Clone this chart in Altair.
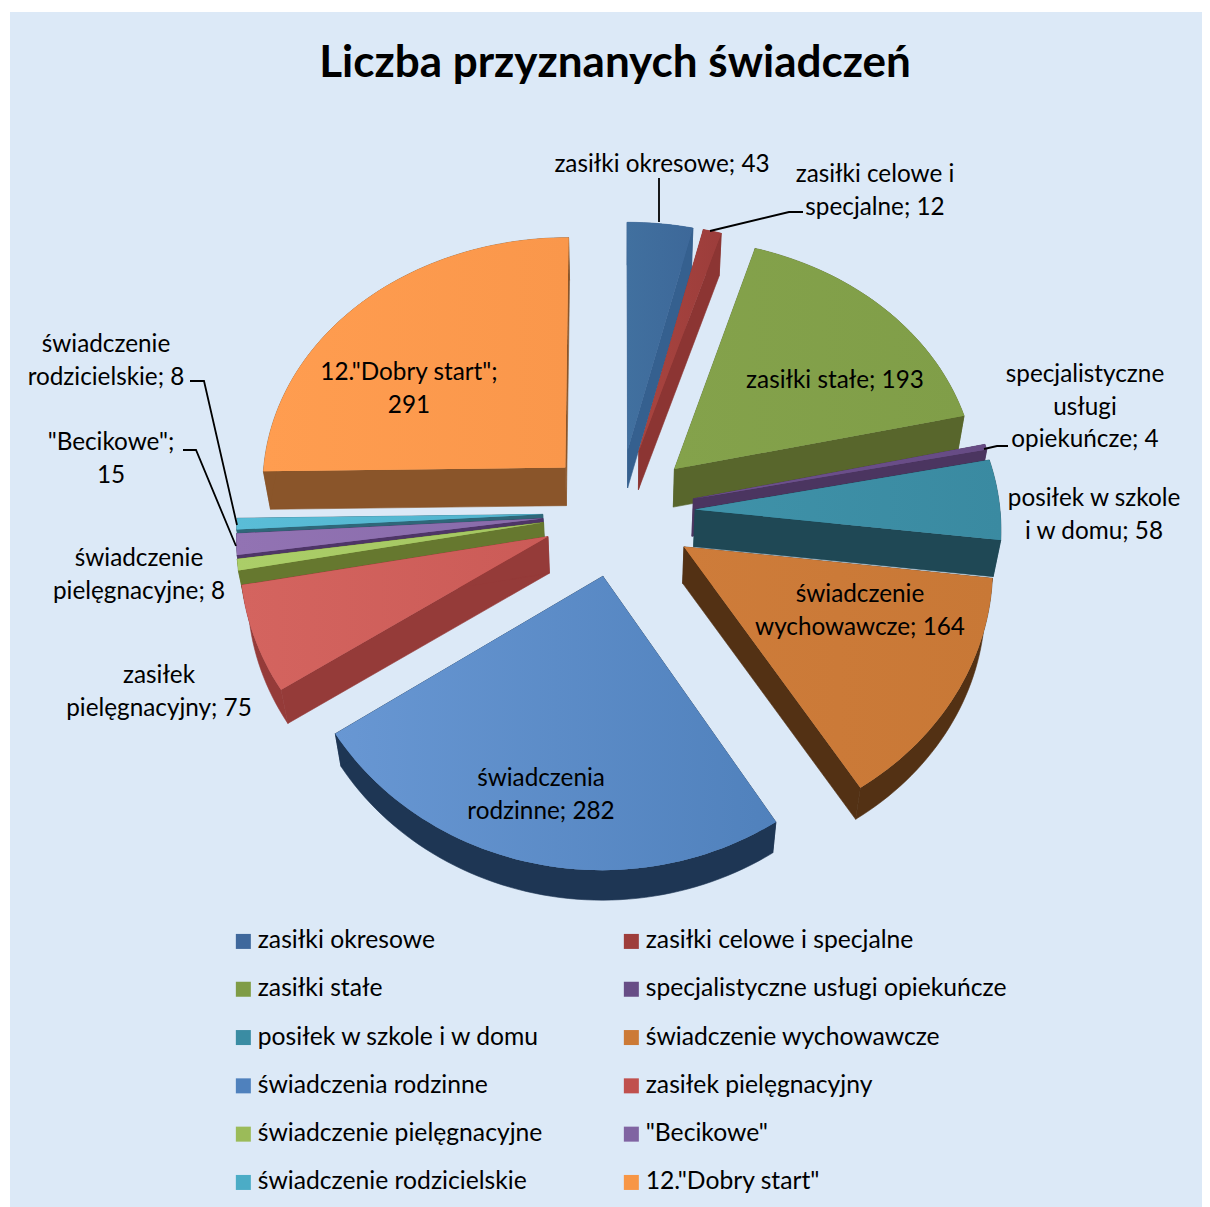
import math
import altair as alt

NAMES = ["zasiłki okresowe", "zasiłki celowe i specjalne", "zasiłki stałe",
         "specjalistyczne usługi opiekuńcze", "posiłek w szkole i w domu",
         "świadczenie wychowawcze", "świadczenia rodzinne", "zasiłek pielęgnacyjny",
         "świadczenie pielęgnacyjne", "\"Becikowe\"", "świadczenie rodzicielskie",
         "12.\"Dobry start\""]
VALUES = [43, 12, 193, 4, 58, 164, 282, 75, 8, 15, 8, 291]
COLORS = ["#3F689C", "#9E3D3B", "#7F9C46", "#674D86", "#3A8CA3", "#CC7A36",
          "#4F81BD", "#C0504D", "#9BBB59", "#8064A2", "#4BACC6", "#F79646"]
TOP_LEFT = ["#41709F", "#A8443F", "#84A24B", "#6F5290", "#3F92A9", "#CE7C3A",
            "#6897D3", "#D4645F", "#ABCE68", "#9273B3", "#5ABDD7", "#FF9D50"]
TOP_RIGHT = ["#3D6899", "#9C3D3B", "#809E48", "#664B84", "#3A8AA1", "#C87836",
             "#5081BC", "#CB5B57", "#A4C661", "#886BAA", "#50B3CD", "#FA974B"]
WALLS = ["#35608F", "#8C3533", "#58662C", "#4B3560", "#1F4855", "#533114",
         "#1E3654", "#953B39", "#66782F", "#4E3567", "#2F6779", "#8A552A"]
WRAPPED = ["zasiłki okresowe; 43", "zasiłki celowe i\nspecjalne; 12", "zasiłki stałe; 193",
           "specjalistyczne\nusługi\nopiekuńcze; 4", "posiłek w szkole\ni w domu; 58",
           "świadczenie\nwychowawcze; 164", "świadczenia\nrodzinne; 282",
           "zasiłek\npielęgnacyjny; 75", "świadczenie\npielęgnacyjne; 8",
           "\"Becikowe\";\n15", "świadczenie\nrodzicielskie; 8", "12.\"Dobry start\";\n291"]

# layout of the hand-placed data labels (page pixels, first line) and leader lines
LABEL_X = [662, 875, 835, 1085, 1094, 860, 541, 159, 139, 111, 106, 409]
LABEL_Y = [165, 175, 381, 375, 499, 595, 779, 676, 559, 443, 345, 373]
LEADERS = [[(659, 178), (659, 222)],
           [(803, 212), (789, 212), (710, 231)],
           [(1008, 446), (997, 446), (984, 449)],
           [(183, 450), (196, 450), (236, 546)],
           [(190, 381), (204, 381), (237, 525)]]

OX, OY = 10, 12            # view origin on the page
CX, CY = 619, 512          # pie hub
A, PX = 305, 0.065         # horizontal perspective of the tilted disc
B, PY = 257, 0.086         # vertical perspective of the tilted disc
EXPLODE = 0.25
VANISH_Y, WALL_K = 2370, 0.98


def project(u, v):
    return CX + A * u / (1 - PX * v), CY + B * v / (1 - PY * v)


def drop(pt):
    return CX + WALL_K * (pt[0] - CX), VANISH_Y + WALL_K * (pt[1] - VANISH_Y)


def to_view(pt):
    return [round(pt[0] - OX, 2), round(pt[1] - OY, 2)]


total = sum(VALUES)
tops, walls = [], []
start = 0.0
slices = []
for i, val in enumerate(VALUES):
    end = start + val / total * 2 * math.pi
    mid = (start + end) / 2
    ex, ev = EXPLODE * math.sin(mid), -EXPLODE * math.cos(mid)
    steps = max(2, int((end - start) / math.radians(1.5)))
    apex = project(ex, ev)
    rim = []
    for s in range(steps + 1):
        t = start + (end - start) * s / steps
        rim.append(project(ex + math.sin(t), ev - math.cos(t)))
    slices.append((ev, i, apex, rim))
    start = end

slices.sort()
for ev, i, apex, rim in slices:
    faces = [[apex, rim[0]], rim, [rim[-1], apex]]
    for face in faces:
        outline = face + [drop(p) for p in reversed(face)] + [face[0]]
        walls.append({"type": "Feature", "properties": {"name": NAMES[i], "fill": WALLS[i]},
                      "geometry": {"type": "Polygon",
                                   "coordinates": [[to_view(p) for p in outline]]}})
    ring = [apex] + rim + [apex]
    gradient = {"gradient": "linear", "x1": 0, "y1": 0, "x2": 1, "y2": 0,
                "stops": [{"offset": 0, "color": TOP_LEFT[i]},
                          {"offset": 1, "color": TOP_RIGHT[i]}]}
    tops.append({"type": "Feature", "properties": {"name": NAMES[i], "fill": gradient},
                 "geometry": {"type": "Polygon", "coordinates": [[to_view(p) for p in ring]]}})

leaders = [{"type": "Feature", "properties": {},
            "geometry": {"type": "LineString", "coordinates": [to_view(p) for p in line]}}
           for line in LEADERS]


def geo(features):
    return alt.InlineData(values={"type": "FeatureCollection", "features": features},
                          format=alt.DataFormat(property="features", type="json"))


proj = alt.Projection(type="identity", scale=1, translate=[0, 0])
FONT = "Lato"

wall_layer = alt.Chart(geo(walls)).mark_geoshape(strokeWidth=0.6).encode(
    fill=alt.Fill("properties.fill:N", scale=None),
    stroke=alt.Stroke("properties.fill:N", scale=None),
).project(**proj.to_dict())

top_layer = alt.Chart(geo(tops)).mark_geoshape(strokeWidth=0).encode(
    color=alt.Color("properties.name:N",
                    scale=alt.Scale(domain=NAMES, range=COLORS),
                    legend=alt.Legend(orient="none", legendX=221, legendY=916.6, columns=2,
                                      direction="horizontal", title=None,
                                      symbolType="square", symbolSize=225, symbolStrokeWidth=0,
                                      labelFont=FONT, labelFontSize=24.7, labelColor="black",
                                      labelLimit=500, labelOffset=2, rowPadding=22.3,
                                      columnPadding=76, padding=0)),
).project(**proj.to_dict())

# top faces repainted with the soft light of the render; the legend keeps the series colour
shade_layer = alt.Chart(geo(tops)).mark_geoshape(strokeWidth=0).encode(
    fill=alt.Fill("properties.fill:N", scale=None),
).project(**proj.to_dict())

leader_layer = alt.Chart(geo(leaders)).mark_geoshape(
    filled=False, stroke="black", strokeWidth=1.8).project(**proj.to_dict())

label_rows = [{"t": t, "x": x - OX, "y": y - OY} for t, x, y in zip(WRAPPED, LABEL_X, LABEL_Y)]
labels = alt.Chart(alt.Data(values=label_rows)).mark_text(
    font=FONT, fontSize=24.3, color="black", lineBreak="\n", lineHeight=32.5,
    align="center", baseline="middle").encode(
    x=alt.X("x:Q", scale=None, axis=None),
    y=alt.Y("y:Q", scale=None, axis=None),
    text="t:N")

chart = alt.layer(wall_layer, top_layer, shade_layer, leader_layer, labels).properties(
    width=1192, height=1195,
    padding={"left": 2, "top": 4, "right": 0, "bottom": 0},
    autosize=alt.AutoSizeParams(type="none"),
    background="white",
    title=alt.TitleParams("Liczba przyznanych świadczeń", font=FONT, fontSize=44, fontWeight="bold",
                          color="black", anchor="middle", dx=9, dy=74, offset=0),
).configure_view(fill="#DCE9F7", strokeWidth=0)

chart.save("out.html", embed_options={"renderer": "svg", "actions": False})
